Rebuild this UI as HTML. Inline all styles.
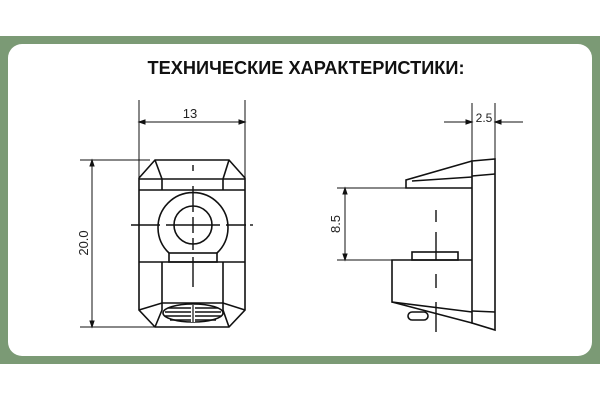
<!DOCTYPE html>
<html><head><meta charset="utf-8"><style>
html,body{margin:0;padding:0;background:#fff;}
svg{display:block}
</style></head><body>
<svg width="600" height="400" viewBox="0 0 600 400" xmlns="http://www.w3.org/2000/svg">
<rect x="0" y="0" width="600" height="400" fill="#fff"/>
<rect x="0" y="36" width="600" height="328" fill="#7b9a75"/>
<rect x="8" y="44" width="584" height="312" rx="14" fill="#fff"/>
<text x="306" y="74" text-anchor="middle" font-family="Liberation Sans, sans-serif" font-weight="bold" font-size="18" textLength="317" lengthAdjust="spacingAndGlyphs" fill="#111">ТЕХНИЧЕСКИЕ ХАРАКТЕРИСТИКИ:</text>
<g stroke="#111" fill="none" stroke-width="1">
<line x1="139" y1="100" x2="139" y2="178"/><line x1="245" y1="100" x2="245" y2="178"/>
<line x1="141" y1="122" x2="243" y2="122"/>
<path d="M139 122 l6 -2 v4z M245 122 l-6 -2 v4z" fill="#111"/>
<line x1="80" y1="160" x2="150" y2="160"/><line x1="80" y1="327" x2="155" y2="327"/>
<line x1="92" y1="162" x2="92" y2="325"/>
<path d="M92 160 l-2 6 h4z M92 327 l-2 -6 h4z" fill="#111"/>
</g>
<g stroke="#111" fill="none" stroke-width="1.6">
<path d="M155 160 H229 L245 178 V310 L229 327 H155 L139 310 V178 Z"/>
<line x1="139" y1="179" x2="245" y2="179"/>
<path d="M155 160 L162 179 V190"/><path d="M229 160 L223 179 V190"/>
<line x1="139" y1="190" x2="245" y2="190"/>
<line x1="139" y1="262" x2="245" y2="262"/>
<line x1="162" y1="262" x2="162" y2="303"/><line x1="223" y1="262" x2="223" y2="303"/>
<path d="M139 310 L162 303 H223 L245 310"/>
<path d="M162 303 V310 L155 327"/><path d="M223 303 V310 L229 327"/>
<path d="M169 253 A35 35 0 1 1 217 253"/>
<rect x="169" y="253" width="48" height="9"/>
<circle cx="193" cy="225" r="19"/>
<ellipse cx="193" cy="313" rx="30" ry="9"/>
</g>
<g stroke="#111" stroke-width="1.4">
<line x1="131" y1="225" x2="160" y2="225"/><line x1="166" y1="225" x2="220" y2="225"/><line x1="226" y1="225" x2="246" y2="225"/><line x1="250" y1="225" x2="253" y2="225"/>
<line x1="193" y1="186" x2="193" y2="212"/><line x1="193" y1="217" x2="193" y2="233"/><line x1="193" y1="238" x2="193" y2="250"/>
<line x1="193" y1="257" x2="193" y2="287"/><line x1="193" y1="165" x2="193" y2="171"/>
<line x1="168" y1="308" x2="218" y2="308"/><line x1="165" y1="312" x2="221" y2="312"/><line x1="165" y1="316" x2="221" y2="316"/><line x1="170" y1="320" x2="216" y2="320"/>
</g>
<line x1="193" y1="305" x2="193" y2="322" stroke="#fff" stroke-width="4"/>
<line x1="193" y1="305" x2="193" y2="322" stroke="#111" stroke-width="1.2"/>
<text x="190" y="118" text-anchor="middle" font-family="Liberation Sans, sans-serif" font-size="13" fill="#222">13</text>
<text transform="translate(88,243) rotate(-90)" text-anchor="middle" font-family="Liberation Sans, sans-serif" font-size="13" fill="#222">20.0</text>
<g stroke="#111" fill="none" stroke-width="1">
<line x1="472" y1="103" x2="472" y2="161"/><line x1="495" y1="103" x2="495" y2="159"/>
<line x1="444" y1="122" x2="472" y2="122"/><line x1="495" y1="122" x2="523" y2="122"/>
<path d="M472 122 l-6 -2 v4z M495 122 l6 -2 v4z" fill="#111"/>
<line x1="337" y1="188" x2="406" y2="188"/><line x1="337" y1="260" x2="392" y2="260"/>
<line x1="345" y1="190" x2="345" y2="258"/>
<path d="M345 188 l-2 6 h4z M345 260 l-2 -6 h4z" fill="#111"/>
</g>
<g stroke="#111" fill="none" stroke-width="1.6">
<path d="M472 161 L495 159 V330 L472 323 Z"/>
<line x1="472" y1="176" x2="495" y2="174"/>
<line x1="472" y1="311" x2="495" y2="312"/>
<path d="M472 161 L406 180 V188 H472"/>
<line x1="412" y1="181" x2="472" y2="177"/>
<path d="M472 260 H392 V302 L472 312"/>
<path d="M392 302 L472 323"/>
<rect x="412" y="252" width="46" height="8"/>
<rect x="408" y="312" width="20" height="8" rx="4"/>
</g>
<g stroke="#111" stroke-width="1.4">
<line x1="436" y1="210" x2="436" y2="222"/><line x1="436" y1="232" x2="436" y2="260"/>
<line x1="436" y1="274" x2="436" y2="288"/><line x1="436" y1="302" x2="436" y2="332"/>
</g>
<text x="484" y="122" text-anchor="middle" font-family="Liberation Sans, sans-serif" font-size="12" fill="#222">2.5</text>
<text transform="translate(340,224) rotate(-90)" text-anchor="middle" font-family="Liberation Sans, sans-serif" font-size="13" fill="#222">8.5</text>
</svg>
</body></html>
